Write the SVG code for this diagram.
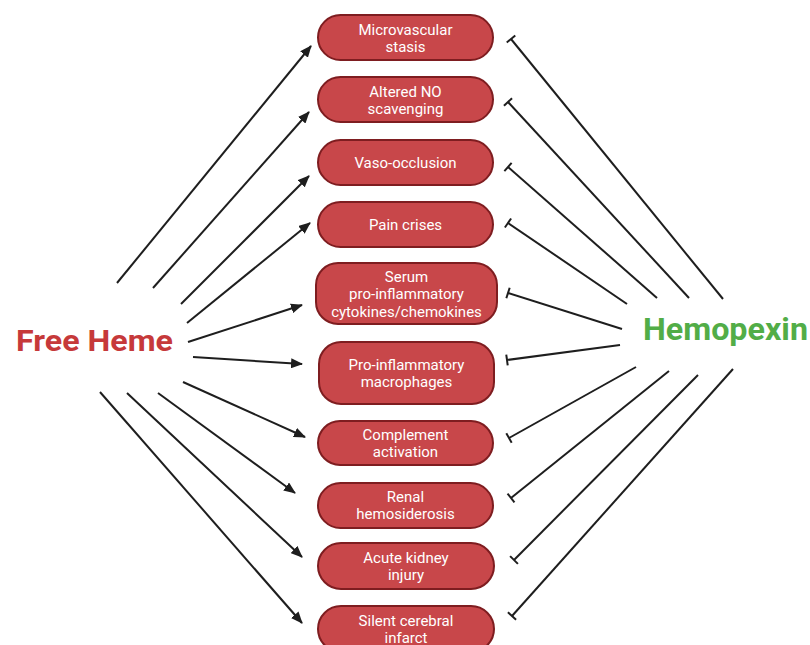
<svg xmlns="http://www.w3.org/2000/svg" width="810" height="645" viewBox="0 0 810 645">
<defs>
<style>
.node rect{fill:#c8474a;stroke:#7e1d20;stroke-width:2}
.node text{fill:#ffffff;font-family:Roboto,"Liberation Sans",sans-serif;font-size:15px;text-anchor:middle}
.conn line{stroke:#1e1e1e;stroke-width:2;fill:none}
.act{marker-end:url(#arrow)}
.inh{marker-end:url(#tbar)}
.title{font-family:Roboto,"Liberation Sans",sans-serif;font-weight:bold}
</style>
<marker id="arrow" viewBox="0 0 12 10" refX="11" refY="5" markerWidth="12" markerHeight="10" markerUnits="userSpaceOnUse" orient="auto">
<path d="M0,0 L12,5 L0,10 z" fill="#1e1e1e"/>
</marker>
<marker id="tbar" viewBox="-2 -6 4 12" refX="0" refY="0" markerWidth="4" markerHeight="12" markerUnits="userSpaceOnUse" orient="auto">
<line x1="0" y1="-5.5" x2="0" y2="5.5" stroke="#1e1e1e" stroke-width="2"/>
</marker>
</defs>
<rect width="810" height="645" fill="#ffffff"/>

<g id="connectors" class="conn">
<line class="act" x1="117" y1="283" x2="311" y2="46"/>
<line class="act" x1="153" y1="288" x2="309" y2="112"/>
<line class="act" x1="181" y1="304" x2="309" y2="176"/>
<line class="act" x1="187" y1="323" x2="310" y2="223"/>
<line class="act" x1="188" y1="342" x2="302" y2="305"/>
<line class="act" x1="193" y1="357" x2="302" y2="364"/>
<line class="act" x1="183" y1="382" x2="305" y2="437"/>
<line class="act" x1="158" y1="393" x2="295" y2="493"/>
<line class="act" x1="127" y1="393" x2="302" y2="557"/>
<line class="act" x1="100" y1="392" x2="302" y2="623"/>

<line class="inh" x1="723" y1="299" x2="511" y2="39"/>
<line class="inh" x1="689" y1="298" x2="508" y2="102"/>
<line class="inh" x1="657" y1="298" x2="508" y2="167"/>
<line class="inh" x1="627" y1="304" x2="508" y2="223"/>
<line class="inh" x1="622" y1="329" x2="508" y2="293"/>
<line class="inh" x1="620" y1="345" x2="507" y2="360"/>
<line class="inh" x1="636" y1="367" x2="509" y2="438"/>
<line class="inh" x1="669" y1="371" x2="511" y2="498"/>
<line class="inh" x1="698" y1="375" x2="514" y2="560"/>
<line class="inh" x1="733" y1="369" x2="512" y2="616"/>
</g>

<g id="free-heme"><text class="title" x="16" y="351" font-size="30" fill="#c6393a" textLength="157" lengthAdjust="spacingAndGlyphs">Free Heme</text></g>
<g id="hemopexin"><text class="title" x="643" y="340" font-size="31" fill="#52ad47" textLength="165" lengthAdjust="spacingAndGlyphs">Hemopexin</text></g>

<g id="n1" class="node"><rect x="318" y="15" width="175" height="45" rx="22.5"/><text x="405.5" y="35">Microvascular</text><text x="405.5" y="52">stasis</text></g>
<g id="n2" class="node"><rect x="318" y="77" width="175" height="45" rx="22.5"/><text x="405.5" y="97">Altered NO</text><text x="405.5" y="114">scavenging</text></g>
<g id="n3" class="node"><rect x="318" y="140" width="175" height="45" rx="22.5"/><text x="405.5" y="167.5">Vaso-occlusion</text></g>
<g id="n4" class="node"><rect x="318" y="202" width="175" height="45" rx="22.5"/><text x="405.5" y="229.5">Pain crises</text></g>
<g id="n5" class="node"><rect x="316" y="263" width="181" height="61" rx="22"/><text x="406.5" y="281.5">Serum</text><text x="406.5" y="299">pro-inflammatory</text><text x="406.5" y="316.5">cytokines/chemokines</text></g>
<g id="n6" class="node"><rect x="319" y="342" width="175" height="62" rx="22"/><text x="406.5" y="369.5">Pro-inflammatory</text><text x="406.5" y="387">macrophages</text></g>
<g id="n7" class="node"><rect x="318" y="421" width="175" height="44" rx="22"/><text x="405.5" y="440">Complement</text><text x="405.5" y="457">activation</text></g>
<g id="n8" class="node"><rect x="318" y="483" width="175" height="45" rx="22.5"/><text x="405.5" y="502">Renal</text><text x="405.5" y="519">hemosiderosis</text></g>
<g id="n9" class="node"><rect x="318" y="543" width="176" height="46" rx="23"/><text x="406" y="563">Acute kidney</text><text x="406" y="580">injury</text></g>
<g id="n10" class="node"><rect x="318" y="606" width="176" height="46" rx="23"/><text x="406" y="625.5">Silent cerebral</text><text x="406" y="642.5">infarct</text></g>
</svg>
